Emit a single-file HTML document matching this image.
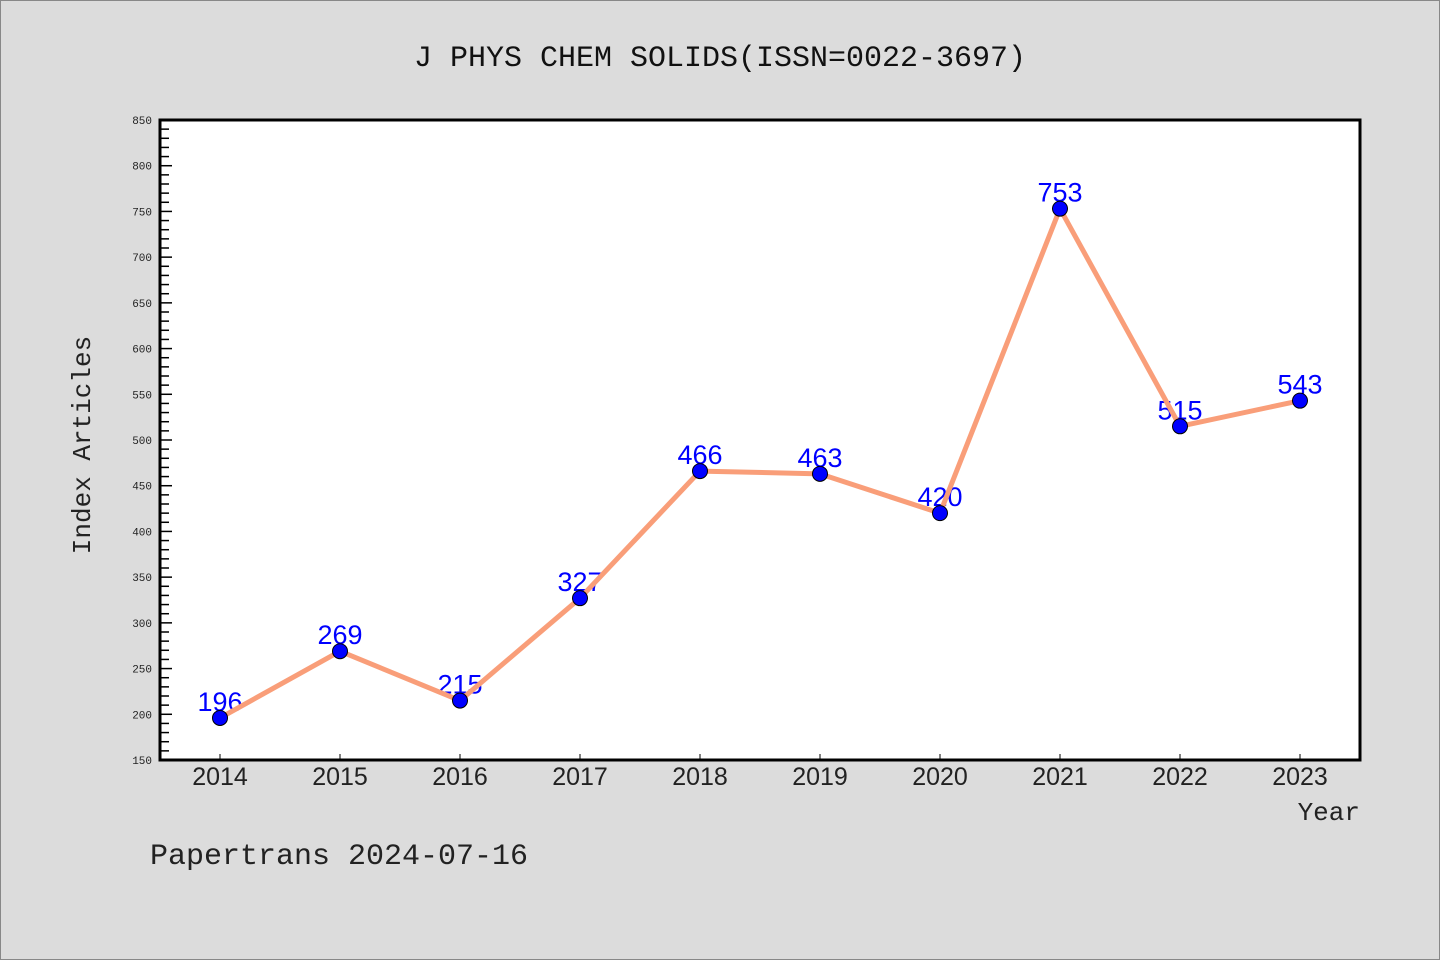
<!DOCTYPE html>
<html><head><meta charset="utf-8"><style>
html,body{margin:0;padding:0;background:#dcdcdc;}
svg{display:block;font-family:"Liberation Mono","DejaVu Sans Mono",monospace;}
</style></head><body>
<svg id="chart" width="1440" height="960" viewBox="0 0 1440 960" xmlns="http://www.w3.org/2000/svg">
<rect x="0.5" y="0.5" width="1439" height="959" fill="#dcdcdc" stroke="#888"/>
<text x="720" y="66" text-anchor="middle" font-size="30" fill="#111">J PHYS CHEM SOLIDS(ISSN=0022-3697)</text>
<rect x="160" y="120" width="1200" height="640" fill="#fff"/>
<g id="yticks"></g>
<g id="xticks"></g>
<g id="labels"></g>
<g id="series"></g>
<rect x="160" y="120" width="1200" height="640" fill="none" stroke="#000" stroke-width="3"/>
<text x="90" y="445" text-anchor="middle" font-size="26" fill="#222" transform="rotate(-90 90 445)">Index Articles</text>
<text x="1360" y="820" text-anchor="end" font-size="26" fill="#222">Year</text>
<text x="150" y="864" font-size="30" fill="#222">Papertrans 2024-07-16</text>
</svg>
<script>
const years = ["2014","2015","2016","2017","2018","2019","2020","2021","2022","2023"];
const articles = [196,269,215,327,466,463,420,753,515,543];
const yTicks = [150,200,250,300,350,400,450,500,550,600,650,700,750,800,850];
const NS="http://www.w3.org/2000/svg";
const X0=160,X1=1360,Y0=760,Y1=120,YMIN=150,YMAX=850;
function xs(i){return 220+i*(1080/(years.length-1));}
function ys(v){return Y0-(v-YMIN)/(YMAX-YMIN)*(Y0-Y1);}
function mk(tag,a,p){const e=document.createElementNS(NS,tag);for(const k in a)e.setAttribute(k,a[k]);p.appendChild(e);return e;}
const yg=document.getElementById('yticks');
for(let v=YMIN;v<=YMAX;v+=10){
  const major=(v%50===0);
  const l=mk('line',{x1:X0,x2:X0+(major?12:9),y1:ys(v),y2:ys(v),stroke:'#000','stroke-width':1.5},yg);
  
  
}
yTicks.forEach(v=>{
  const t=mk('text',{x:X0-8,y:ys(v)+4,'text-anchor':'end','font-size':11,fill:'#222'},yg);
  t.textContent=v;
  
  
});
const xg=document.getElementById('xticks');
years.forEach((y,i)=>{
  const l=mk('line',{x1:xs(i),x2:xs(i),y1:Y0,y2:Y0-6,stroke:'#000','stroke-width':1},xg);
  
  
  const t=mk('text',{x:xs(i),y:785,'text-anchor':'middle','font-size':25,fill:'#222','font-family':'Liberation Sans, sans-serif'},xg);
  t.textContent=y;
  
  
});
const lg=document.getElementById('labels');
articles.forEach((v,i)=>{
  const t=mk('text',{x:xs(i),y:ys(v)-7,'text-anchor':'middle','font-size':27,fill:'#0000ff','font-family':'Liberation Sans, sans-serif'},lg);
  t.textContent=v;
  
  
});
const sg=document.getElementById('series');
const pl=mk('polyline',{points:articles.map((v,i)=>xs(i)+','+ys(v)).join(' '),fill:'none',stroke:'#f99e79','stroke-width':5,'stroke-linejoin':'round'},sg);


articles.forEach((v,i)=>{
  const c=mk('circle',{cx:xs(i),cy:ys(v),r:7.5,fill:'#0000ff',stroke:'#000','stroke-width':1},sg);
  
  
});
</script>
</body></html>
